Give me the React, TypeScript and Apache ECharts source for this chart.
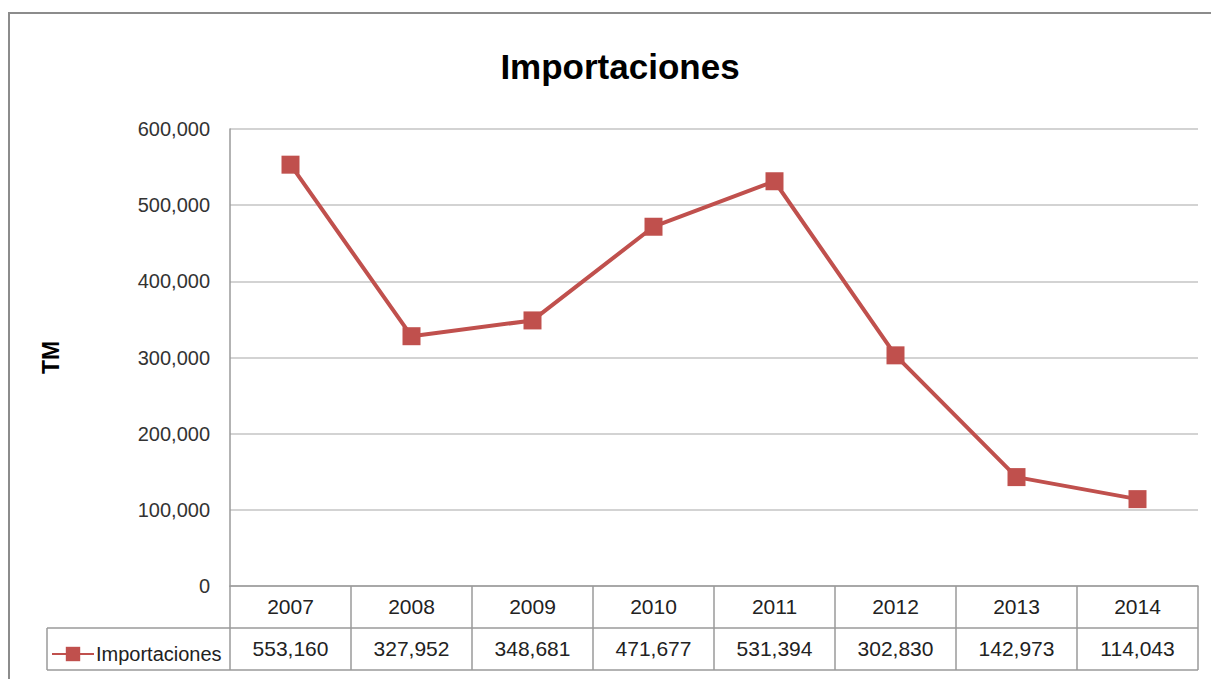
import React, { useEffect, useRef } from "react";
import * as echarts from "echarts";

const years = ["2007", "2008", "2009", "2010", "2011", "2012", "2013", "2014"];
const importaciones = [553160, 327952, 348681, 471677, 531394, 302830, 142973, 114043];
const yTicks = { min: 0, max: 600000, interval: 100000 };

const fmt = (v: number) => v.toLocaleString("en-US");

const W = 1211;
const H = 679;
const GL = 230;
const GR = 1198;
const GT = 129;
const GB = 586;
const ROW = 42;
const CELL_L = 47;
const FONT = "'Liberation Sans', Arial, sans-serif";
const LINE_C = "#9a9a9a";

export default function App() {
  const ref = useRef<HTMLDivElement>(null);
  useEffect(() => {
    if (!ref.current) return;
    const chart = echarts.init(ref.current, undefined, { renderer: "svg" });
    const lineStyle = { stroke: LINE_C, lineWidth: 1.5 };
    chart.setOption({
      animation: false,
      backgroundColor: "#ffffff",
      title: {
        text: "Importaciones",
        left: 615,
        top: 44,
        textAlign: "center",
        textStyle: { fontFamily: FONT, fontSize: 35, fontWeight: "bold", color: "#000" },
      },
      legend: {
        left: 46,
        top: 639,
        itemWidth: 42,
        itemHeight: 18,
        itemGap: 4,
        textStyle: { fontFamily: FONT, fontSize: 20, color: "#222", padding: [0, 0, 0, -3] },
        data: ["Importaciones"],
      },
      grid: { left: GL, right: W - GR, top: GT, bottom: H - GB, containLabel: false },
      xAxis: [
        {
          type: "category",
          data: years,
          boundaryGap: true,
          axisLine: { show: true, lineStyle: { color: LINE_C, width: 1.5 } },
          axisTick: { show: true, interval: 0, length: ROW * 2, lineStyle: { color: LINE_C, width: 1.5 } },
          axisLabel: { interval: 0, margin: 10, fontFamily: FONT, fontSize: 21, color: "#222" },
        },
        {
          type: "category",
          data: importaciones.map(fmt),
          position: "bottom",
          offset: ROW,
          boundaryGap: true,
          axisLine: { show: false },
          axisTick: { show: false },
          axisLabel: { interval: 0, margin: 10, fontFamily: FONT, fontSize: 21, color: "#222" },
        },
      ],
      yAxis: {
        type: "value",
        min: yTicks.min,
        max: yTicks.max,
        interval: yTicks.interval,
        name: "TM",
        nameLocation: "middle",
        nameRotate: 90,
        nameGap: 168,
        nameTextStyle: { fontFamily: FONT, fontSize: 23, fontWeight: "bold", color: "#000" },
        axisLine: { show: true, lineStyle: { color: LINE_C, width: 1.5 } },
        axisTick: { show: false },
        splitLine: { show: true, lineStyle: { color: "#c4c4c4", width: 1.5 } },
        axisLabel: { margin: 20, fontFamily: FONT, fontSize: 20, color: "#333", formatter: (v: number) => fmt(v) },
      },
      series: [
        {
          name: "Importaciones",
          type: "line",
          xAxisIndex: 0,
          data: importaciones,
          symbol: "rect",
          symbolSize: 18,
          lineStyle: { color: "#c0504d", width: 4 },
          itemStyle: { color: "#c0504d" },
        },
      ],
      graphic: [
        { type: "rect", shape: { x: 9, y: 13, width: 1400, height: 900 }, style: { fill: "none", stroke: "#8c8c8c", lineWidth: 2 }, silent: true },
        { type: "line", shape: { x1: CELL_L, y1: GB + ROW, x2: GR, y2: GB + ROW }, style: lineStyle, silent: true },
        { type: "line", shape: { x1: CELL_L, y1: GB + ROW * 2, x2: GR, y2: GB + ROW * 2 }, style: lineStyle, silent: true },
        { type: "line", shape: { x1: CELL_L, y1: GB + ROW, x2: CELL_L, y2: GB + ROW * 2 }, style: lineStyle, silent: true },
      ],
    });
    return () => chart.dispose();
  }, []);
  return <div ref={ref} style={{ width: W, height: H, position: "absolute", left: 0, top: 0 }} />;
}
